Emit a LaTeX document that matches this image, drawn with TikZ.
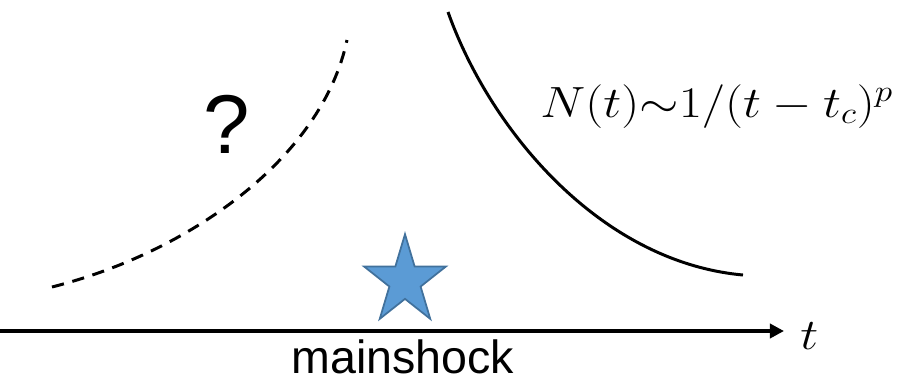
\documentclass[tikz,border=0pt]{standalone}
\usepackage{amsmath}
\usepackage{fontspec}
\setsansfont{Liberation Sans}
\usetikzlibrary{arrows.meta,shapes.geometric}

\definecolor{starfill}{HTML}{5B9BD5}
\definecolor{stardraw}{HTML}{41719C}

\begin{document}
\begin{tikzpicture}[
x=0.02cm, y=-0.02cm, % one unit per pixel of the sketch, y runs down
>={Triangle[length=8pt, width=8pt]},
curve/.style={line width=1.7pt},
mathlabel/.style={font=\fontsize{26}{30}\selectfont, xscale=1.16},
every node/.style={inner sep=0pt}
]
\useasboundingbox (0,0) rectangle (913,383);

% ================= Time axis =================
\coordinate (origin) at (0,331);
\coordinate (tip) at (784,331);
\draw[->, line width=2.4pt] (origin) -- (tip);
\node[mathlabel, anchor=base west] (tlabel) at (800,349) {$t$};

% mainshock marker and label
\node[star, star points=5, star point ratio=2.618, minimum size=1.8cm,
      xscale=0.955, yscale=1.04, fill=starfill, draw=stardraw, line width=1pt]
      (shock) at (405,281) {};
\node[anchor=base, font=\sffamily\fontsize{26.5}{30}\selectfont] (mainshock) at (403,373) {mainshock};

% ================= Foreshocks (unknown) =================
\coordinate (fsstart) at (52,287);
\coordinate (fsend) at (347,40);
\draw[curve, dash pattern=on 7pt off 5pt] (fsstart) .. controls (190,252) and (322,158) .. (fsend);
\node[anchor=base, font=\sffamily\fontsize{47.5}{50}\selectfont] (unknown) at (227,153) {?};

% ================= Aftershocks (Omori law) =================
\coordinate (asstart) at (448,12);
\coordinate (asend) at (743,275);
\draw[curve] (asstart) .. controls (490,130) and (600,262) .. (asend);
\node[mathlabel, anchor=base west] (omori) at (540,117)
      {$N(t){\sim}1/(t-t_c)^p$};

\end{tikzpicture}
\end{document}
